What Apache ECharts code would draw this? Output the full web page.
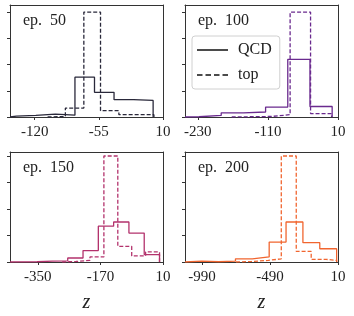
<!DOCTYPE html>
<html><head><meta charset="utf-8">
<script src="https://cdn.jsdelivr.net/npm/echarts@6/dist/echarts.min.js"></script>
<style>html,body{margin:0;padding:0;background:#fff}#c{width:354px;height:316px}</style>
</head><body><div id="c"></div>
<script>
// ---- data ----
const panelTitles = ['ep.  50', 'ep.  100', 'ep.  150', 'ep.  200'];
const panelColors = ['#29283a', '#6a2a8e', '#b3326c', '#f1652f'];
const xMins = [-145, -252, -430, -1115];
const xMaxs = [10, 10, 10, 10];
const xTicks50 = [-120, -55, 10];
const xTicks100 = [-230, -110, 10];
const xTicks150 = [-350, -170, 10];
const xTicks200 = [-990, -490, 10];
const yTicks = [0, 1, 2, 3, 4];

const qcd50Edges = [-145, -138.6, -118.8, -99, -79.2, -59.4, -39.6, -19.8, 0];
const qcd50 = [0.03, 0.06, 0.11, 0.07, 1.52, 0.94, 0.66, 0.63];
const top50Edges = [-106.9, -88.9, -70.2, -53.3, -34.7, 0.8];
const top50 = [0.02, 0.34, 4.0, 0.24, 0.09];

const qcd100Edges = [-252, -228, -190, -152, -114, -76, -38, 0];
const qcd100 = [0.01, 0.06, 0.16, 0.19, 0.38, 2.2, 0.4];
const top100Edges = [-172, -138, -104, -72, -37, -1];
const top100 = [0.01, 0.02, 0.09, 4.0, 0.13];

const qcd150Edges = [-430, -352, -308, -264, -220, -176, -132, -88, -44, 0];
const qcd150 = [0.01, 0.03, 0.04, 0.15, 0.43, 1.35, 1.51, 1.09, 0.28];
const top150Edges = [-280, -240, -200, -160, -120, -80, -40, 0];
const top150 = [0.02, 0.06, 0.19, 4.0, 0.59, 0.23, 0.38];

const qcd200Edges = [-1115, -992, -868, -744, -620, -496, -372, -248, -124, 0];
const qcd200 = [0.03, 0.01, 0.03, 0.12, 0.19, 0.75, 1.51, 0.73, 0.5];
const top200Edges = [-740, -624, -502, -407, -297, -187, -77, 0];
const top200 = [0.02, 0.06, 0.12, 4.0, 0.4, 0.1, 0.06];

const legendNames = ['QCD', 'top'];
const axisName = 'z';

// ---- build ----
function stepPts(edges, h) {
  const pts = [[edges[0], 0]];
  for (let i = 0; i < h.length; i++) { pts.push([edges[i], h[i]]); pts.push([edges[i + 1], h[i]]); }
  pts.push([edges[h.length], 0]);
  return pts;
}
const SERIF = '"Liberation Serif", "DejaVu Serif", serif';
const grids = [
  {left: 10, top: 5, width: 153, height: 112},
  {left: 185, top: 5, width: 153, height: 112},
  {left: 10, top: 152, width: 153, height: 110},
  {left: 185, top: 152, width: 153, height: 110}
];
const yMaxs = [4.27, 4.27, 4.15, 4.15];
const xTickSets = [xTicks50, xTicks100, xTicks150, xTicks200];
const qcdE = [qcd50Edges, qcd100Edges, qcd150Edges, qcd200Edges];
const qcdH = [qcd50, qcd100, qcd150, qcd200];
const topE = [top50Edges, top100Edges, top150Edges, top200Edges];
const topH = [top50, top100, top150, top200];

const xAxis = grids.map((g, i) => ({
  type: 'value', gridIndex: i, position: 'bottom', min: xMins[i], max: xMaxs[i],
  axisLine: {show: true, onZero: false, lineStyle: {color: '#333', width: 1}},
  axisTick: {show: true, inside: false, length: 3, customValues: xTickSets[i], lineStyle: {color: '#333'}},
  axisLabel: {show: true, customValues: xTickSets[i], formatter: v => String(v), margin: 8,
    fontFamily: SERIF, fontSize: 15, color: '#222'},
  splitLine: {show: false},
  name: i >= 2 ? axisName : '', nameLocation: 'middle', nameGap: 31,
  nameTextStyle: {fontFamily: SERIF, fontStyle: 'italic', fontSize: 20, color: '#222'}
}));
const yAxis = grids.map((g, i) => ({
  type: 'value', gridIndex: i, position: 'left', min: 0, max: yMaxs[i],
  axisLine: {show: true, onZero: false, lineStyle: {color: '#333', width: 1}},
  axisTick: {show: true, inside: false, length: 3, customValues: yTicks, lineStyle: {color: '#333'}},
  axisLabel: {show: false},
  splitLine: {show: false}
}));
// top/right spines via extra axes
grids.forEach((g, i) => {
  xAxis.push({type: 'value', gridIndex: i, position: 'top', min: xMins[i], max: xMaxs[i],
    axisLine: {show: true, onZero: false, lineStyle: {color: '#333', width: 1}}, axisTick: {show: false},
    axisLabel: {show: false}, splitLine: {show: false}});
  yAxis.push({type: 'value', gridIndex: i, position: 'right', min: 0, max: yMaxs[i],
    axisLine: {show: true, onZero: false, lineStyle: {color: '#333', width: 1}}, axisTick: {show: false},
    axisLabel: {show: false}, splitLine: {show: false}});
});

const series = [];
for (let i = 0; i < 4; i++) {
  series.push({type: 'line', xAxisIndex: i, yAxisIndex: i, data: stepPts(qcdE[i], qcdH[i]),
    symbol: 'none', silent: true, lineStyle: {color: panelColors[i], width: 1.3}, z: 3});
  series.push({type: 'line', xAxisIndex: i, yAxisIndex: i, data: stepPts(topE[i], topH[i]),
    symbol: 'none', silent: true, lineStyle: {color: panelColors[i], width: 1.3, type: [4, 2]}, z: 3});
}
series.push({name: legendNames[0], type: 'line', xAxisIndex: 1, yAxisIndex: 1, data: [], symbol: 'none',
  itemStyle: {color: '#111'}, lineStyle: {color: '#111', width: 1.5}});
series.push({name: legendNames[1], type: 'line', xAxisIndex: 1, yAxisIndex: 1, data: [], symbol: 'none',
  itemStyle: {color: '#111'}, lineStyle: {color: '#111', width: 1.5, type: [4, 2]}});

// legend icons: thin line shapes inside a 31x12 box (tiny corner marks fix the bounding box)
const box = 'M0,0h0.01v0.01h-0.01z M31,12h-0.01v-0.01h0.01z ';
const solidIcon = 'path://' + box + 'M0,5.3h31v1.5h-31z';
const dashIcon = 'path://' + box + 'M0,5.3h5.5v1.5h-5.5z M8.5,5.3h5.5v1.5h-5.5z M17,5.3h5.5v1.5h-5.5z M25.5,5.3h5.5v1.5h-5.5z';

const title = panelTitles.map((t, i) => ({
  text: t, left: grids[i].left + 13, top: grids[i].top + 8, padding: 0,
  textStyle: {fontFamily: SERIF, fontSize: 16, fontWeight: 'normal', color: '#222'}
}));

const chart = echarts.init(document.getElementById('c'), null, {renderer: 'canvas'});
chart.setOption({
  animation: false, backgroundColor: '#fff',
  title, grid: grids, xAxis, yAxis, series,
  legend: {data: [{name: legendNames[0], icon: solidIcon}, {name: legendNames[1], icon: dashIcon}],
    orient: 'vertical', left: 192, top: 36, padding: [6, 8, 6, 5],
    itemGap: 9, itemWidth: 31, itemHeight: 12, selectedMode: false,
    itemStyle: {color: '#111', borderWidth: 0},
    backgroundColor: 'rgba(255,255,255,0.85)', borderColor: '#d0d0d0', borderWidth: 1, borderRadius: 3,
    textStyle: {fontFamily: SERIF, fontSize: 16, color: '#222', padding: [0, 0, 0, 5]}}
});
</script></body></html>
